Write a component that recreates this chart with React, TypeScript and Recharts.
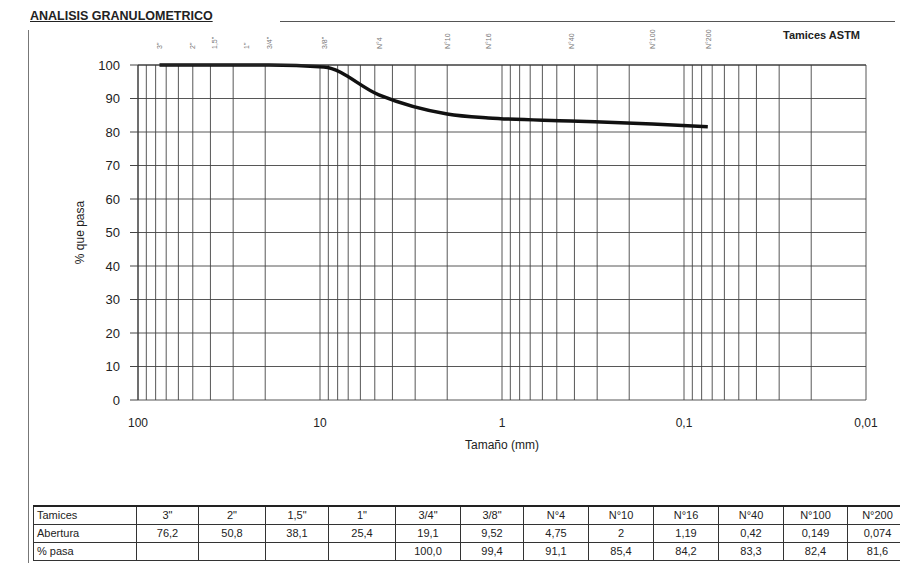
import React from 'react'
import { LineChart, Line, XAxis, YAxis, CartesianGrid } from 'recharts'

// Tamices ASTM y aberturas (mm)
const sieveNames = ['3"', '2"', '1,5"', '1"', '3/4"', '3/8"', 'N°4', 'N°10', 'N°16', 'N°40', 'N°100', 'N°200']
const sieveOpenings = [76.2, 50.8, 38.1, 25.4, 19.1, 9.52, 4.75, 2, 1.19, 0.42, 0.149, 0.074]
// % que pasa de la tabla (vacío donde no hay dato)
const tablePasa = [null, null, null, null, 100.0, 99.4, 91.1, 85.4, 84.2, 83.3, 82.4, 81.6]
// curva tal como está dibujada en el gráfico
const curvePasa = [100, 100, 100, 100, 100, 99.4, 91.1, 85.4, 84.2, 83.3, 82.4, 81.6]

const xDecades = [100, 10, 1, 0.1, 0.01]
const xDecadeLabels = ['100', '10', '1', '0,1', '0,01']
const yTicks = [0, 10, 20, 30, 40, 50, 60, 70, 80, 90, 100]

const FONT = '"Liberation Sans", Arial, sans-serif'

// subdivisiones logarítmicas para la grilla vertical
const logTicks: number[] = []
for (const d of [0.01, 0.1, 1, 10]) {
  for (let k = 1; k <= 9; k++) logTicks.push(Number((k * d).toPrecision(3)))
}
logTicks.push(100)

const data = sieveOpenings.map((size, i) => ({ size, pasa: curvePasa[i] }))

const fmtDecade = (v: number) => {
  const i = xDecades.findIndex((d) => Math.abs(d - v) < d * 1e-6)
  return i >= 0 ? xDecadeLabels[i] : ''
}

const SieveTick = (props: any) => {
  const { x, y, payload } = props
  const i = sieveOpenings.indexOf(payload.value)
  return (
    <text
      x={x}
      y={y}
      transform={`rotate(-90 ${x} ${y})`}
      textAnchor="start"
      dy={3}
      fontSize={7}
      fill="#777"
      fontFamily={FONT}
    >
      {i >= 0 ? sieveNames[i] : ''}
    </text>
  )
}

const colWidths = [103, 62, 67, 63, 67, 65, 63, 65, 65, 65, 65, 64, 60]

const cell = (w: number, align: 'left' | 'center' = 'center'): React.CSSProperties => ({
  width: w,
  minWidth: w,
  maxWidth: w,
  border: '1px solid #333',
  padding: '0 3px',
  height: 18,
  textAlign: align,
  whiteSpace: 'nowrap',
  overflow: 'hidden',
  boxSizing: 'border-box',
})

export default function App() {
  return (
    <div
      style={{
        position: 'absolute',
        left: 0,
        top: 0,
        width: 900,
        height: 563,
        overflow: 'hidden',
        background: '#fff',
        fontFamily: FONT,
        color: '#222',
      }}
    >
      <div style={{ position: 'absolute', left: 30, top: 9, fontSize: 12.5, fontWeight: 'bold', textDecoration: 'underline' }}>
        ANALISIS GRANULOMETRICO
      </div>
      <div style={{ position: 'absolute', left: 280, top: 21, width: 615, borderTop: '1px solid #555' }} />
      <div style={{ position: 'absolute', left: 28, top: 30, height: 533, borderLeft: '1px solid #777' }} />
      <div style={{ position: 'absolute', left: 783, top: 29, fontSize: 11, fontWeight: 'bold' }}>Tamices ASTM</div>

      <div style={{ position: 'absolute', left: 0, top: 0 }}>
        <LineChart width={900} height={470} data={data} margin={{ top: 35, right: 34, bottom: 15, left: 0 }}>
          <CartesianGrid stroke="#444" strokeWidth={0.9} />
          <XAxis
            dataKey="size"
            type="number"
            scale="log"
            domain={[0.01, 100]}
            allowDataOverflow
            reversed
            ticks={logTicks}
            interval={0}
            tickFormatter={fmtDecade}
            tickLine={false}
            axisLine={false}
            tickSize={8}
            tickMargin={10}
            height={55}
            tick={{ fontSize: 12, fill: '#222', fontFamily: FONT }}
            label={{ value: 'Tamaño (mm)', position: 'insideBottom', offset: 6, fontSize: 12, fill: '#222', fontFamily: FONT }}
          />
          <XAxis
            xAxisId="top"
            dataKey="size"
            orientation="top"
            type="number"
            scale="log"
            domain={[0.01, 100]}
            allowDataOverflow
            reversed
            ticks={sieveOpenings}
            interval={0}
            tick={<SieveTick />}
            tickLine={false}
            axisLine={{ stroke: '#333' }}
            tickSize={6}
            tickMargin={10}
            height={30}
          />
          <YAxis
            type="number"
            domain={[0, 100]}
            ticks={yTicks}
            interval={0}
            width={138}
            tickSize={8}
            tickMargin={10}
            tickLine={{ stroke: '#444' }}
            axisLine={{ stroke: '#333' }}
            tick={{ fontSize: 13, fill: '#222', fontFamily: FONT }}
            label={{
              value: '% que pasa',
              angle: -90,
              position: 'insideLeft',
              offset: 80,
              fontSize: 12,
              fill: '#222',
              fontFamily: FONT,
              style: { textAnchor: 'middle' },
            }}
          />
          <Line
            dataKey="pasa"
            type="monotone"
            stroke="#111"
            strokeWidth={3.5}
            dot={false}
            isAnimationActive={false}
          />
        </LineChart>
      </div>

      <table
        style={{
          position: 'absolute',
          left: 33,
          top: 505,
          borderCollapse: 'collapse',
          tableLayout: 'fixed',
          fontSize: 11,
          borderTop: '2px solid #222',
        }}
      >
        <tbody>
          <tr>
            <td style={cell(colWidths[0], 'left')}>Tamices</td>
            {sieveNames.map((n, i) => (
              <td key={n} style={cell(colWidths[i + 1])}>{n}</td>
            ))}
          </tr>
          <tr>
            <td style={cell(colWidths[0], 'left')}>Abertura</td>
            {sieveOpenings.map((v, i) => (
              <td key={i} style={cell(colWidths[i + 1])}>{String(v).replace('.', ',')}</td>
            ))}
          </tr>
          <tr>
            <td style={cell(colWidths[0], 'left')}>% pasa</td>
            {tablePasa.map((v, i) => (
              <td key={i} style={cell(colWidths[i + 1])}>{v == null ? '' : v.toFixed(1).replace('.', ',')}</td>
            ))}
          </tr>
        </tbody>
      </table>
    </div>
  )
}
